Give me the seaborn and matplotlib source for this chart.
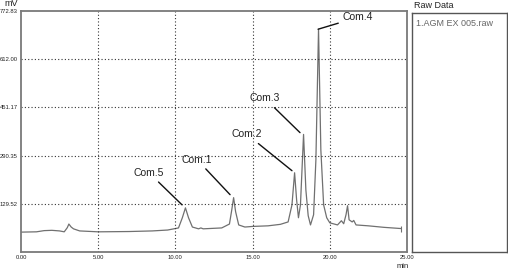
import matplotlib
matplotlib.use("Agg")
import matplotlib.pyplot as plt
import seaborn as sns
import pandas as pd

# Retention time (min) and detector signal (mV)
time_min = [0.0, 1.0, 1.5, 2.0, 2.5, 2.8, 3.0, 3.1, 3.25, 3.4, 3.8, 5.0, 7.0, 8.5, 9.5,
            10.2, 10.45, 10.65, 10.85, 11.1, 11.5, 11.65, 11.8, 13.0, 13.5, 13.65, 13.77, 13.9,
            14.1, 14.5, 15.0, 16.0, 16.8, 17.3, 17.55, 17.72, 17.85, 17.97, 18.1, 18.3,
            18.45, 18.6, 18.75, 18.95, 19.1, 19.27, 19.42, 19.6, 19.8, 20.0, 20.5, 20.75,
            20.9, 21.05, 21.15, 21.25, 21.45, 21.55, 21.7, 22.5, 23.5, 24.6]
signal_mv = [35, 36, 40, 41, 39, 36, 50, 62, 52, 46, 39, 36, 37, 39, 42,
             49, 83, 116, 83, 52, 46, 49, 46, 49, 62, 109, 150, 103,
             59, 52, 54, 56, 61, 69, 126, 233, 143, 83, 126, 361,
             176, 90, 59, 93, 277, 712, 310, 126, 83, 66, 59, 73,
             63, 93, 123, 76, 69, 74, 59, 56, 51, 47]

peak_names = ["Com.5", "Com.1", "Com.2", "Com.3", "Com.4"]
pointer_times = [10.43, 13.54, 17.55, 18.07, 19.24]
pointer_values = [126, 160, 240, 367, 712]
label_times = [8.29, 11.4, 14.64, 15.8, 21.83]
label_values = [233, 277, 361, 481, 752]

y_ticks = [129.52, 290.35, 451.17, 612.00, 772.83]
y_tick_labels = ["129.52", "290.35", "451.17", "612.00", "772.83"]
x_ticks = [0, 5, 10, 15, 20, 25]
x_tick_labels = ["0.00", "5.00", "10.00", "15.00", "20.00", "25.00"]
raw_files = ["1.AGM EX 005.raw"]

sns.set_style("white")
plt.rcParams["font.family"] = ["Liberation Sans", "DejaVu Sans"]

W, H = 508, 269
fig = plt.figure(figsize=(W / 100, H / 100), dpi=100)
ax = fig.add_axes([21 / W, 1 - 252 / H, (407 - 21) / W, (252 - 11) / H])

df = pd.DataFrame({"t": time_min, "mv": signal_mv})
sns.lineplot(data=df, x="t", y="mv", ax=ax, color="#707070", linewidth=0.9)
ax.plot([time_min[-1]], [signal_mv[-1]], marker="|", color="#707070", markersize=5, mew=0.8)

ax.set_xlim(0, 25)
ax.set_ylim(-31.31, 772.83)
ax.set_xticks(x_ticks)
ax.set_xticklabels(x_tick_labels)
ax.set_yticks(y_ticks)
ax.set_yticklabels(y_tick_labels)
ax.tick_params(axis="both", labelsize=4.2, length=1.5, width=0.6, pad=1, colors="#222222")
ax.set_xlabel("")
ax.set_ylabel("")

for xt in x_ticks[1:-1]:
    ax.axvline(xt, color="#333333", linestyle=(0, (1, 2)), linewidth=0.8)
for yt in y_ticks[:-1]:
    ax.axhline(yt, color="#333333", linestyle=(0, (1, 2)), linewidth=0.8)

for s in ax.spines.values():
    s.set_color("#7a7a7a")
    s.set_linewidth(1.3)

for name, pt, pv, lt, lv in zip(peak_names, pointer_times, pointer_values, label_times, label_values):
    ax.annotate(name, xy=(pt, pv), xytext=(lt, lv), fontsize=7.5, color="#222222",
                ha="center", va="center",
                arrowprops=dict(arrowstyle="-", color="#111111", lw=1.0,
                                shrinkA=1, shrinkB=0))

fig.text(11 / W, 1 - 4 / H, "mV", fontsize=6.5, ha="center", va="center", color="#222222")
fig.text(403 / W, 1 - 266.5 / H, "min", fontsize=5.5, ha="center", va="center", color="#222222")

# Raw data panel
ax2 = fig.add_axes([412 / W, 1 - 252 / H, (507 - 412) / W, (252 - 13) / H])
ax2.set_xticks([])
ax2.set_yticks([])
for s in ax2.spines.values():
    s.set_color("#555555")
    s.set_linewidth(1.0)
fig.text(414 / W, 1 - 5 / H, "Raw Data", fontsize=6.5, ha="left", va="center", color="#222222")
for i, f in enumerate(raw_files):
    ax2.text(0.04, 0.955 - i * 0.05, f, transform=ax2.transAxes, fontsize=6.5,
             ha="left", va="center", color="#666666")

fig.savefig("out.png", dpi=100)
